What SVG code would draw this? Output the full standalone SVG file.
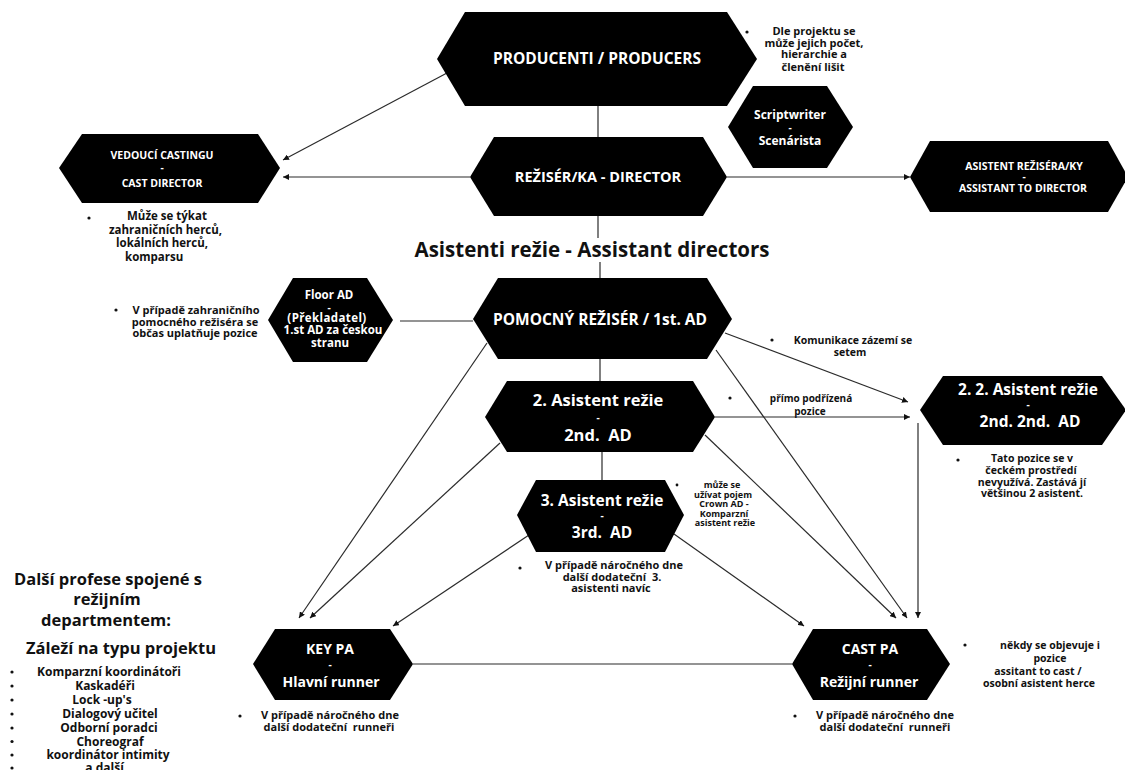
<svg xmlns="http://www.w3.org/2000/svg" width="1125" height="770" viewBox="0 0 1125 770">
  <defs>
    <style>
      .hex { fill: #000; }
      .t { font-family: "Open Sans", "Noto Sans", "DejaVu Sans", sans-serif; font-weight: 700; white-space: pre; }
      .w { fill: #fff; text-anchor: middle; }
      .k { fill: #111; }
      .c { text-anchor: middle; }
      .ln { stroke: #2b2b2b; stroke-width: 1.2; fill: none; }
      .dot { fill: #111; }
      .dash { font-size: 10px; }
    </style>
    <marker id="arr" markerWidth="7" markerHeight="6" refX="6" refY="3" orient="auto" markerUnits="userSpaceOnUse">
      <path d="M0,0 L6,3 L0,6 Z" fill="#111"/>
    </marker>
  </defs>
  <rect width="1125" height="770" fill="#fff"/>

  <!-- connectors -->
  <g id="connectors" class="ln">
    <line x1="598" y1="106" x2="598" y2="137"/>
    <line x1="447" y1="73" x2="283" y2="160" marker-end="url(#arr)"/>
    <line x1="470" y1="177" x2="283" y2="177" marker-end="url(#arr)"/>
    <line x1="727" y1="177" x2="910" y2="177" marker-end="url(#arr)"/>
    <line x1="598" y1="216" x2="598" y2="238"/>
    <line x1="600" y1="262" x2="600" y2="278"/>
    <line x1="400" y1="321" x2="473" y2="321"/>
    <line x1="725" y1="333" x2="908" y2="402" marker-end="url(#arr)"/>
    <line x1="600" y1="359" x2="600" y2="381"/>
    <line x1="487" y1="343" x2="299" y2="618" marker-end="url(#arr)"/>
    <line x1="716" y1="350" x2="907" y2="618" marker-end="url(#arr)"/>
    <line x1="715" y1="417" x2="910" y2="417" marker-end="url(#arr)"/>
    <line x1="500" y1="443" x2="310" y2="618" marker-end="url(#arr)"/>
    <line x1="705" y1="435" x2="896" y2="618" marker-end="url(#arr)"/>
    <line x1="602" y1="452" x2="602" y2="480"/>
    <line x1="529" y1="535" x2="393" y2="626" marker-end="url(#arr)"/>
    <line x1="674" y1="534" x2="804" y2="626" marker-end="url(#arr)"/>
    <line x1="918" y1="423" x2="918" y2="618" marker-end="url(#arr)"/>
    <line x1="413" y1="664" x2="792" y2="664"/>
  </g>

  <!-- producers -->
  <g id="producers">
    <polygon class="hex" points="437,59 465,12 727,12 757,59 727,106 465,106"/>
    <text class="t w" x="597" y="64" font-size="15.5">PRODUCENTI / PRODUCERS</text>
  </g>
  <g id="producers-note">
    <circle class="dot" cx="747" cy="32" r="1.6"/>
    <text class="t k c" font-size="11"><tspan x="814" y="35">Dle projektu se</tspan><tspan x="814" y="47">může jejich počet,</tspan><tspan x="814" y="58">hierarchie a</tspan><tspan x="813" y="71">členění lišit</tspan></text>
  </g>

  <!-- scriptwriter -->
  <g id="scriptwriter">
    <polygon class="hex" points="728,127 753,86 827,86 853,127 827,168 753,168"/>
    <text class="t w" font-size="12"><tspan x="790" y="119">Scriptwriter</tspan><tspan class="dash" x="790" y="131">-</tspan><tspan x="790" y="145">Scenárista</tspan></text>
  </g>

  <!-- director -->
  <g id="director">
    <polygon class="hex" points="470,177 494,137 703,137 727,177 703,216 494,216"/>
    <text class="t w" x="598" y="182" font-size="14.5">REŽISÉR/KA - DIRECTOR</text>
  </g>

  <!-- cast director -->
  <g id="cast-director">
    <polygon class="hex" points="59,168 82,134 258,134 280,168 258,203 82,203"/>
    <text class="t w" font-size="10.5"><tspan x="162" y="159">VEDOUCÍ CASTINGU</tspan><tspan class="dash" x="162" y="171">-</tspan><tspan x="162" y="187">CAST DIRECTOR</tspan></text>
  </g>
  <g id="cast-director-note">
    <circle class="dot" cx="89" cy="218" r="1.6"/>
    <text class="t k" font-size="11.5"><tspan x="127" y="220">Může se týkat</tspan><tspan x="109" y="234">zahraničních herců,</tspan><tspan x="116" y="247">lokálních herců,</tspan><tspan x="125" y="261">komparsu</tspan></text>
  </g>

  <!-- assistant to director -->
  <g id="assistant-to-director">
    <polygon class="hex" points="910,177 930,141 1108,141 1128,177 1108,212 930,212"/>
    <text class="t w" font-size="10.5"><tspan x="1024" y="170">ASISTENT REŽISÉRA/KY</tspan><tspan class="dash" x="1024" y="180">-</tspan><tspan x="1023" y="192">ASSISTANT TO DIRECTOR</tspan></text>
  </g>

  <!-- heading -->
  <text id="ad-heading" class="t k c" x="592" y="257" font-size="20.5">Asistenti režie - Assistant directors</text>

  <!-- floor AD -->
  <g id="floor-ad">
    <polygon class="hex" points="268,320 293,278 367,278 393,320 367,362 293,362"/>
    <text class="t w" font-size="11.5"><tspan x="329" y="299">Floor AD</tspan><tspan class="dash" x="329" y="311">-</tspan><tspan x="327" y="322" letter-spacing="0.4">(Překladatel)</tspan><tspan x="333" y="334">1.st AD za českou</tspan><tspan x="330" y="347">stranu</tspan></text>
  </g>
  <g id="floor-ad-note">
    <circle class="dot" cx="116" cy="310" r="1.6"/>
    <text class="t k c" font-size="11"><tspan x="196" y="314">V případě zahraničního</tspan><tspan x="195" y="326">pomocného režiséra se</tspan><tspan x="195" y="337">občas uplatňuje pozice</tspan></text>
  </g>

  <!-- 1st AD -->
  <g id="first-ad">
    <polygon class="hex" points="473,319 498,278 707,278 732,319 707,359 498,359"/>
    <text class="t w" x="600" y="325" font-size="15.5">POMOCNÝ REŽISÉR / 1st. AD</text>
  </g>
  <g id="first-ad-note">
    <circle class="dot" cx="772" cy="340" r="1.6"/>
    <text class="t k c" font-size="10.5"><tspan x="853" y="344">Komunikace zázemí se</tspan><tspan x="850" y="356">setem</tspan></text>
  </g>

  <!-- 2nd AD -->
  <g id="second-ad">
    <polygon class="hex" points="485,417 507,381 693,381 715,417 693,452 507,452"/>
    <text class="t w" font-size="16.5"><tspan x="598" y="406">2. Asistent režie</tspan><tspan class="dash" x="598" y="421">-</tspan><tspan x="598" y="441">2nd.  AD</tspan></text>
  </g>
  <g id="second-ad-note">
    <circle class="dot" cx="730" cy="398" r="1.6"/>
    <text class="t k c" font-size="10"><tspan x="811" y="402">přímo podřízená</tspan><tspan x="810" y="415">pozice</tspan></text>
  </g>

  <!-- 2nd 2nd AD -->
  <g id="second-second-ad">
    <polygon class="hex" points="920,410 943,376 1102,376 1126,410 1102,445 943,445"/>
    <text class="t w" font-size="15.5"><tspan x="1028" y="395">2. 2. Asistent režie</tspan><tspan class="dash" x="1028" y="408">-</tspan><tspan x="1030" y="427">2nd. 2nd.  AD</tspan></text>
  </g>
  <g id="second-second-ad-note">
    <circle class="dot" cx="958" cy="460" r="1.6"/>
    <text class="t k c" font-size="10.5"><tspan x="1032" y="462">Tato pozice se v</tspan><tspan x="1031" y="474">čeckém prostředí</tspan><tspan x="1032" y="486">nevyužívá. Zastává jí</tspan><tspan x="1032" y="497">většinou 2 asistent.</tspan></text>
  </g>

  <!-- 3rd AD -->
  <g id="third-ad">
    <polygon class="hex" points="517,515 536,480 665,480 684,515 665,552 536,552"/>
    <text class="t w" font-size="15.5"><tspan x="602" y="506">3. Asistent režie</tspan><tspan class="dash" x="602" y="519">-</tspan><tspan x="602" y="538">3rd.  AD</tspan></text>
  </g>
  <g id="third-ad-note-right">
    <circle class="dot" cx="677" cy="485" r="1.4"/>
    <text class="t k c" font-size="9"><tspan x="722" y="488">může se</tspan><tspan x="723" y="497.5">užívat pojem</tspan><tspan x="724" y="507">Crown AD -</tspan><tspan x="724" y="516.5">Komparzní</tspan><tspan x="725" y="526">asistent režie</tspan></text>
  </g>
  <g id="third-ad-note-below">
    <circle class="dot" cx="520" cy="568" r="1.6"/>
    <text class="t k c" font-size="11"><tspan x="614" y="569">V případě náročného dne</tspan><tspan x="612" y="581">další dodateční  3.</tspan><tspan x="611" y="592">asistenti navíc</tspan></text>
  </g>

  <!-- key PA -->
  <g id="key-pa">
    <polygon class="hex" points="253,664 275,629 390,629 413,664 390,700 275,700"/>
    <text class="t w" font-size="14"><tspan x="330" y="654">KEY PA</tspan><tspan class="dash" x="330" y="668">-</tspan><tspan x="331" y="687">Hlavní runner</tspan></text>
  </g>
  <g id="key-pa-note">
    <circle class="dot" cx="240" cy="716" r="1.6"/>
    <text class="t k c" font-size="11"><tspan x="330" y="719">V případě náročného dne</tspan><tspan x="329" y="731">další dodateční  runneři</tspan></text>
  </g>

  <!-- cast PA -->
  <g id="cast-pa">
    <polygon class="hex" points="792,664 813,629 927,629 950,664 927,700 813,700"/>
    <text class="t w" font-size="14"><tspan x="870" y="654">CAST PA</tspan><tspan class="dash" x="870" y="668">-</tspan><tspan x="869" y="687">Režijní runner</tspan></text>
  </g>
  <g id="cast-pa-note">
    <circle class="dot" cx="795" cy="716" r="1.6"/>
    <text class="t k c" font-size="11"><tspan x="885" y="719">V případě náročného dne</tspan><tspan x="885" y="731">další dodateční  runneři</tspan></text>
  </g>
  <g id="cast-pa-note-right">
    <circle class="dot" cx="965" cy="645" r="1.6"/>
    <text class="t k c" font-size="10.5"><tspan x="1050" y="649">někdy se objevuje i</tspan><tspan x="1050" y="662">pozice</tspan><tspan x="1038" y="675">assitant to cast /</tspan><tspan x="1039" y="687">osobní asistent herce</tspan></text>
  </g>

  <!-- other professions list -->
  <g id="other-professions">
    <text class="t k c" font-size="16.5"><tspan x="108" y="585">Další profese spojené s</tspan><tspan x="107" y="605">režijním</tspan><tspan x="106" y="626">departmentem:</tspan></text>
    <text class="t k c" x="121" y="654" font-size="16.5">Záleží na typu projektu</text>
    <text class="t k c" font-size="12"><tspan x="109" y="676">Komparzní koordinátoři</tspan><tspan x="105" y="690">Kaskadéři</tspan><tspan x="102" y="704">Lock -up's</tspan><tspan x="110" y="718">Dialogový učitel</tspan><tspan x="109" y="732">Odborní poradci</tspan><tspan x="110" y="745.5">Choreograf</tspan><tspan x="108" y="759">koordinátor intimity</tspan><tspan x="108" y="772">a další..</tspan></text>
    <circle class="dot" cx="12" cy="672" r="1.6"/>
    <circle class="dot" cx="12" cy="686" r="1.6"/>
    <circle class="dot" cx="12" cy="700" r="1.6"/>
    <circle class="dot" cx="12" cy="714" r="1.6"/>
    <circle class="dot" cx="12" cy="728" r="1.6"/>
    <circle class="dot" cx="12" cy="741.5" r="1.6"/>
    <circle class="dot" cx="12" cy="755" r="1.6"/>
    <circle class="dot" cx="12" cy="768" r="1.6"/>
  </g>
</svg>
